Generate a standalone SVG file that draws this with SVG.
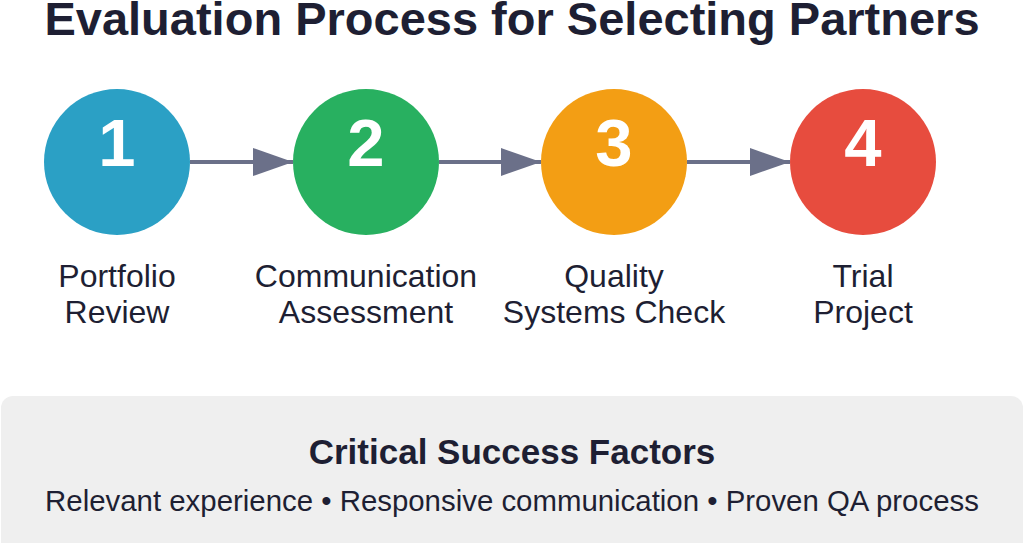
<svg xmlns="http://www.w3.org/2000/svg" width="1024" height="543" viewBox="0 0 1024 543">
<defs>
<marker id="ah" markerUnits="userSpaceOnUse" markerWidth="40" markerHeight="28" refX="40" refY="14" orient="auto">
<path d="M0,0 L40,14 L0,28 Z" fill="#6b7089"/>
</marker>
<style>
.num{font-family:"Liberation Sans",Arial,sans-serif;font-weight:bold;font-size:67px;fill:#ffffff;text-anchor:middle}
.lbl{font-family:"Liberation Sans",Arial,sans-serif;font-size:32px;fill:#1e1f33;text-anchor:middle}
.conn{stroke:#6b7089;stroke-width:4;fill:none;marker-end:url(#ah)}
</style>
</defs>
<rect width="1024" height="543" fill="#ffffff"/>
<text x="512" y="35" font-family="'Liberation Sans',Arial,sans-serif" font-weight="bold" font-size="47" fill="#1e1f33" text-anchor="middle">Evaluation Process for Selecting Partners</text>
<g id="connectors">
<line class="conn" x1="190" y1="162" x2="293" y2="162"/>
<line class="conn" x1="439" y1="162" x2="541" y2="162"/>
<line class="conn" x1="687" y1="162" x2="790" y2="162"/>
</g>
<g id="node1">
<circle cx="117" cy="162" r="73" fill="#2ba0c5"/>
<text class="num" x="117" y="166">1</text>
<text class="lbl" x="117" y="287">Portfolio</text>
<text class="lbl" x="117" y="323">Review</text>
</g>
<g id="node2">
<circle cx="366" cy="162" r="73" fill="#28b060"/>
<text class="num" x="366" y="166">2</text>
<text class="lbl" x="366" y="287">Communication</text>
<text class="lbl" x="366" y="323">Assessment</text>
</g>
<g id="node3">
<circle cx="614" cy="162" r="73" fill="#f39e14"/>
<text class="num" x="614" y="166">3</text>
<text class="lbl" x="614" y="287">Quality</text>
<text class="lbl" x="614" y="323">Systems Check</text>
</g>
<g id="node4">
<circle cx="863" cy="162" r="73" fill="#e74c3e"/>
<text class="num" x="863" y="166">4</text>
<text class="lbl" x="863" y="287">Trial</text>
<text class="lbl" x="863" y="323">Project</text>
</g>
<g id="factors">
<rect x="1" y="396" width="1022" height="160" rx="12" fill="#efefef"/>
<text x="512" y="464" font-family="'Liberation Sans',Arial,sans-serif" font-weight="bold" font-size="35" fill="#1e1f33" text-anchor="middle">Critical Success Factors</text>
<text x="512" y="511" font-family="'Liberation Sans',Arial,sans-serif" font-size="29.4" fill="#1e1f33" text-anchor="middle">Relevant experience • Responsive communication • Proven QA process</text>
</g>
</svg>
